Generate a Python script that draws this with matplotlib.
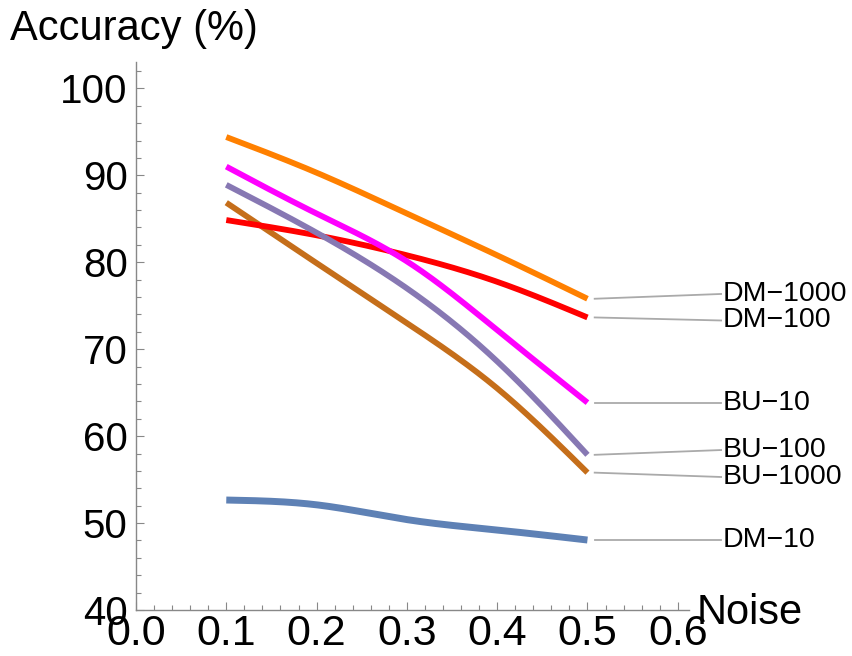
import numpy as np
import matplotlib
matplotlib.use("Agg")
import matplotlib.pyplot as plt
from matplotlib.ticker import MultipleLocator, FixedLocator

plt.rcParams['font.family'] = ['Liberation Sans', 'DejaVu Sans']

# Noise levels and accuracy (%) per method
noise = [0.1, 0.2, 0.3, 0.4, 0.5]
dm_1000 = [94.4, 90.3, 85.6, 80.8, 75.8]
dm_100 = [84.85, 83.1, 80.8, 77.75, 73.65]
bu_10 = [91.0, 85.6, 80.1, 72.2, 63.85]
bu_100 = [88.9, 83.4, 77.0, 68.6, 57.85]
bu_1000 = [86.85, 79.9, 73.0, 65.5, 55.8]
dm_10 = [52.65, 52.1, 50.4, 49.2, 48.05]

series_names = ["DM\u221210", "BU\u22121000", "DM\u2212100", "BU\u2212100", "BU\u221210", "DM\u22121000"]
series_values = [dm_10, bu_1000, dm_100, bu_100, bu_10, dm_1000]
series_colors = ["#5E81B5", "#C56E1A", "#FF0000", "#8778B3", "#FF00FF", "#FF8000"]
series_widths = [5.0, 4.2, 4.2, 4.2, 4.2, 4.2]
# vertical shift of each end label relative to its line's last value
label_shift = [0.0, -0.5, -0.35, 0.55, 0.0, 0.55]

x_ticks = [0.0, 0.1, 0.2, 0.3, 0.4, 0.5, 0.6]
y_ticks = [40, 50, 60, 70, 80, 90, 100]


def natural_spline(x, y, num=300):
    x = np.asarray(x, float)
    y = np.asarray(y, float)
    n = len(x)
    h = np.diff(x)
    A = np.zeros((n, n))
    b = np.zeros(n)
    A[0, 0] = 1.0
    A[-1, -1] = 1.0
    for i in range(1, n - 1):
        A[i, i - 1] = h[i - 1]
        A[i, i] = 2 * (h[i - 1] + h[i])
        A[i, i + 1] = h[i]
        b[i] = 6 * ((y[i + 1] - y[i]) / h[i] - (y[i] - y[i - 1]) / h[i - 1])
    M = np.linalg.solve(A, b)
    xs = np.linspace(x[0], x[-1], num)
    idx = np.clip(np.searchsorted(x, xs) - 1, 0, n - 2)
    x0, x1 = x[idx], x[idx + 1]
    hh = x1 - x0
    t0 = x1 - xs
    t1 = xs - x0
    ys = (M[idx] * t0 ** 3 / (6 * hh) + M[idx + 1] * t1 ** 3 / (6 * hh)
          + (y[idx] / hh - M[idx] * hh / 6) * t0
          + (y[idx + 1] / hh - M[idx + 1] * hh / 6) * t1)
    return xs, ys


fig = plt.figure(figsize=(8.52, 6.56), dpi=100)
ax = fig.add_axes([0.1596, 0.0701, 0.6486, 0.835])
ax.set_xlim(0.0, 0.612)
ax.set_ylim(40, 103)

for name, vals, col, lw, dy in zip(series_names, series_values, series_colors,
                                   series_widths, label_shift):
    xs, ys = natural_spline(noise, vals)
    ax.plot(xs, ys, color=col, lw=lw, solid_capstyle='butt', zorder=3)
    end_y = vals[-1]
    ax.plot([0.508, 0.648], [end_y, end_y + dy], color="#AAAAAA", lw=1.3,
            clip_on=False, zorder=2)
    ax.text(0.650, end_y + dy, name, fontsize=20.5, va='center', ha='left',
            clip_on=False)

for side in ("top", "right"):
    ax.spines[side].set_visible(False)
for side in ("left", "bottom"):
    ax.spines[side].set_color("#888888")
    ax.spines[side].set_linewidth(1.0)

ax.xaxis.set_major_locator(FixedLocator(x_ticks))
ax.xaxis.set_minor_locator(MultipleLocator(0.02))
ax.yaxis.set_major_locator(FixedLocator(y_ticks))
ax.yaxis.set_minor_locator(MultipleLocator(2))
ax.set_xticklabels([f"{v:.1f}" for v in x_ticks])
ax.set_yticklabels([str(v) for v in y_ticks])
ax.tick_params(which='both', direction='in', color="#888888", width=0.8)
ax.tick_params(which='major', length=6)
ax.tick_params(which='minor', length=3.5)
ax.tick_params(axis='x', pad=3, labelsize=31)
ax.tick_params(axis='y', pad=6, labelsize=29)

fig.text(10 / 852, 1 - 40 / 656, "Accuracy (%)", fontsize=30,
         ha='left', va='baseline')
fig.text(697 / 852, 1 - 624 / 656, "Noise", fontsize=30,
         ha='left', va='baseline')

fig.savefig("out.png", dpi=100)
